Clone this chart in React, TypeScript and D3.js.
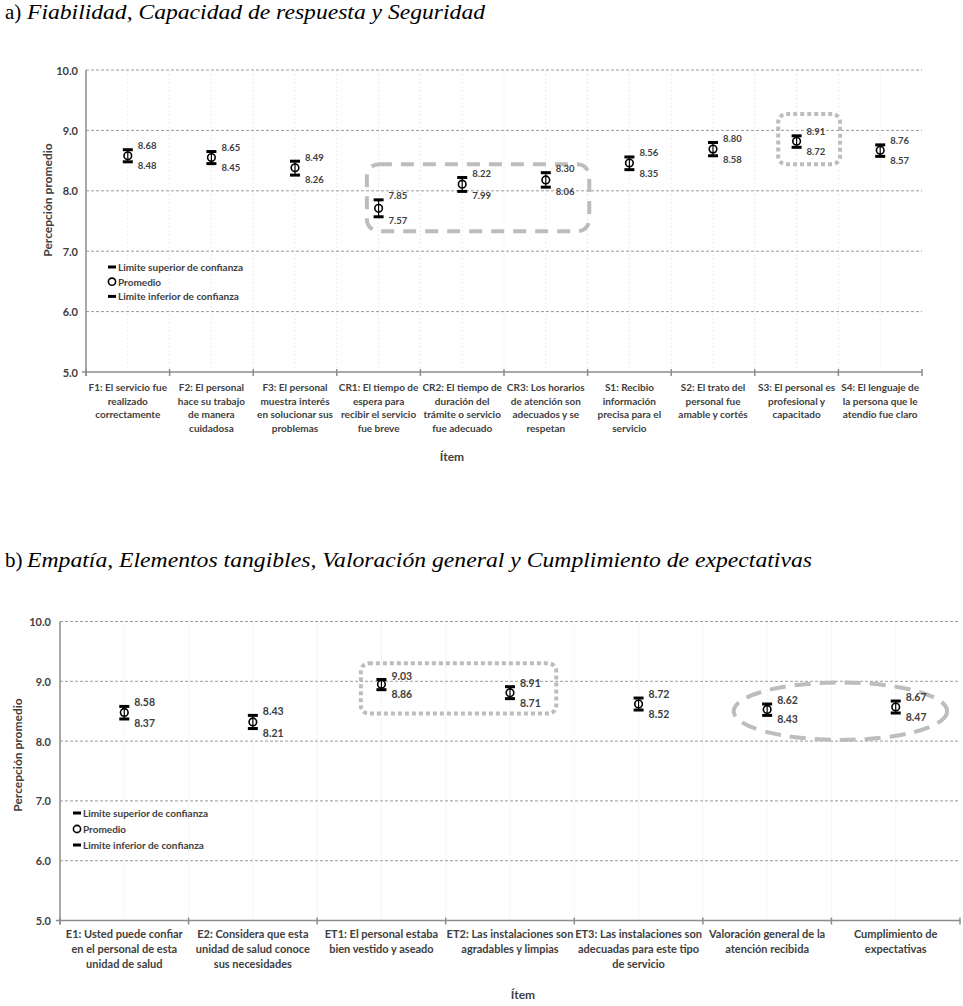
import React from "react";
import * as d3 from "d3";

const topCategories: string[][] = [
  ["F1: El servicio fue", "realizado", "correctamente"],
  ["F2: El personal", "hace su trabajo", "de manera", "cuidadosa"],
  ["F3: El personal", "muestra interés", "en solucionar sus", "problemas"],
  ["CR1: El tiempo de", "espera para", "recibir el servicio", "fue breve"],
  ["CR2: El tiempo de", "duración del", "trámite o servicio", "fue adecuado"],
  ["CR3: Los horarios", "de atención son", "adecuados y se", "respetan"],
  ["S1: Recibio", "información", "precisa para el", "servicio"],
  ["S2: El trato del", "personal fue", "amable y cortés"],
  ["S3: El personal es", "profesional y", "capacitado"],
  ["S4: El lenguaje de", "la persona que le", "atendio fue claro"],
];
const topUpper = [8.68, 8.65, 8.49, 7.85, 8.22, 8.3, 8.56, 8.8, 8.91, 8.76];
const topMean = [8.58, 8.55, 8.38, 7.71, 8.11, 8.18, 8.46, 8.69, 8.82, 8.67];
const topLower = [8.48, 8.45, 8.26, 7.57, 7.99, 8.06, 8.35, 8.58, 8.72, 8.57];

const botCategories: string[][] = [
  ["E1: Usted puede confiar", "en el personal de esta", "unidad de salud"],
  ["E2: Considera que esta", "unidad de salud conoce", "sus necesidades"],
  ["ET1: El personal estaba", "bien vestido y aseado"],
  ["ET2: Las instalaciones son", "agradables y limpias"],
  ["ET3: Las instalaciones son", "adecuadas para este tipo", "de servicio"],
  ["Valoración general de la", "atención recibida"],
  ["Cumplimiento de", "expectativas"],
];
const botUpper = [8.58, 8.43, 9.03, 8.91, 8.72, 8.62, 8.67];
const botMean = [8.48, 8.32, 8.95, 8.81, 8.62, 8.53, 8.57];
const botLower = [8.37, 8.21, 8.86, 8.71, 8.52, 8.43, 8.47];

const yTicks = [5, 6, 7, 8, 9, 10];
const legendItems = ["Limite superior de confianza", "Promedio", "Limite inferior de confianza"];

const FONT = "Lato, 'Open Sans', sans-serif";
const SERIF = "'Liberation Serif', 'DejaVu Serif', serif";
const TXT = "#404040";

type PanelProps = {
  cats: string[][];
  upper: number[];
  mean: number[];
  lower: number[];
  x0: number; x1: number; yTop: number; yBot: number;
  catFont: number; catLine: number; catY: number;
  valFont: number;
  yTitleX: number; yTitleY: number;
  itemX: number; itemY: number;
  legendX: number; legendY: number; legendStep: number;
  tickLabelX: number;
  annotations: (x: d3.ScaleLinear<number, number>, y: d3.ScaleLinear<number, number>) => React.ReactNode;
};

function Panel(p: PanelProps) {
  const n = p.cats.length;
  const x = d3.scaleLinear().domain([0, n]).range([p.x0, p.x1]);
  const y = d3.scaleLinear().domain([5, 10]).range([p.yBot, p.yTop]);
  const halfSteps = d3.range(1, 2 * n).map((i) => i / 2);
  return (
    <g>
      {halfSteps.map((h) => (
        <line key={"v" + h} x1={x(h)} x2={x(h)} y1={p.yTop} y2={p.yBot} stroke="#ececec" strokeDasharray="2,2" strokeWidth={1} />
      ))}
      {yTicks.filter((t) => t > 5).map((t) => (
        <line key={"h" + t} x1={p.x0} x2={p.x1} y1={y(t)} y2={y(t)} stroke="#9a9a9a" strokeDasharray="3,2" strokeWidth={1} />
      ))}
      <line x1={p.x0} x2={p.x0} y1={p.yTop} y2={p.yBot + 4} stroke="#8c8c8c" strokeWidth={1.5} />
      <line x1={p.x0 - 4} x2={p.x1} y1={p.yBot} y2={p.yBot} stroke="#8c8c8c" strokeWidth={1.5} />
      {d3.range(0, n + 1).map((i) => (
        <line key={"t" + i} x1={x(i)} x2={x(i)} y1={p.yBot - 3} y2={p.yBot + 4} stroke="#8c8c8c" strokeWidth={1.5} />
      ))}
      {yTicks.map((t) => (
        <text key={"yl" + t} x={p.tickLabelX} y={y(t)} textAnchor="end" dominantBaseline="central" fontFamily={FONT} fontWeight="bold" fontSize={11} fill={TXT}>
          {t.toFixed(1)}
        </text>
      ))}
      {p.cats.map((lines, i) => (
        <text key={"c" + i} x={x(i + 0.5)} y={p.catY} textAnchor="middle" fontFamily={FONT} fontWeight="bold" fontSize={p.catFont} fill={TXT}>
          {lines.map((l, j) => (
            <tspan key={j} x={x(i + 0.5)} y={p.catY + j * p.catLine}>{l}</tspan>
          ))}
        </text>
      ))}
      <text x={p.itemX} y={p.itemY} textAnchor="middle" fontFamily={FONT} fontWeight="bold" fontSize={12} fill={TXT}>Ítem</text>
      <text transform={`translate(${p.yTitleX},${p.yTitleY}) rotate(-90)`} textAnchor="middle" dominantBaseline="central" fontFamily={FONT} fontWeight="bold" fontSize={12} fill={TXT}>
        Percepción promedio
      </text>
      {p.annotations(x, y)}
      {p.cats.map((_, i) => {
        const cx = x(i + 0.5);
        return (
          <g key={"m" + i}>
            <line x1={cx} x2={cx} y1={y(p.upper[i])} y2={y(p.lower[i])} stroke="#000" strokeWidth={1.2} />
            <rect x={cx - 5} y={y(p.upper[i]) - 1.5} width={10} height={3} fill="#000" />
            <rect x={cx - 5} y={y(p.lower[i]) - 1.5} width={10} height={3} fill="#000" />
            <circle cx={cx} cy={y(p.mean[i])} r={3.8} fill="#fff" stroke="#000" strokeWidth={1.6} />
            <line x1={cx} x2={cx} y1={y(p.mean[i]) - 3.8} y2={y(p.mean[i]) + 3.8} stroke="#000" strokeWidth={1.2} />
            <text x={cx + 10} y={y(p.upper[i]) - 4} dominantBaseline="central" fontFamily={FONT} fontWeight="bold" fontSize={p.valFont} fill={TXT}>
              {p.upper[i].toFixed(2)}
            </text>
            <text x={cx + 10} y={y(p.lower[i]) + 4} dominantBaseline="central" fontFamily={FONT} fontWeight="bold" fontSize={p.valFont} fill={TXT}>
              {p.lower[i].toFixed(2)}
            </text>
          </g>
        );
      })}
      {legendItems.map((l, i) => {
        const ly = p.legendY + i * p.legendStep;
        return (
          <g key={"lg" + i}>
            {i === 1 ? (
              <circle cx={p.legendX} cy={ly} r={3.6} fill="#fff" stroke="#000" strokeWidth={1.6} />
            ) : (
              <rect x={p.legendX - 4} y={ly - 1.5} width={8} height={3} fill="#000" />
            )}
            <text x={p.legendX + 6} y={ly} dominantBaseline="central" fontFamily={FONT} fontWeight="bold" fontSize={10} fill={TXT}>{l}</text>
          </g>
        );
      })}
    </g>
  );
}

export default function App() {
  const dashStyle = { fill: "none", stroke: "#bdbdbd", strokeWidth: 4 };
  return (
    <svg width={963} height={1006} style={{ position: "absolute", left: 0, top: 0, background: "#fff" }}>
      <rect width={963} height={1006} fill="#fff" />
      <text x={5} y={19} fontFamily={SERIF} fontSize={21} fill="#000">a)</text>
      <text x={27} y={19} fontFamily={SERIF} fontSize={21} fontStyle="italic" fill="#000" textLength={458} lengthAdjust="spacingAndGlyphs">
        Fiabilidad, Capacidad de respuesta y Seguridad
      </text>
      <text x={5} y={567} fontFamily={SERIF} fontSize={21} fill="#000">b)</text>
      <text x={27} y={567} fontFamily={SERIF} fontSize={21} fontStyle="italic" fill="#000" textLength={785} lengthAdjust="spacingAndGlyphs">
        Empatía, Elementos tangibles, Valoración general y Cumplimiento de expectativas
      </text>
      <Panel
        cats={topCategories} upper={topUpper} mean={topMean} lower={topLower}
        x0={86} x1={922} yTop={70} yBot={372}
        catFont={10} catLine={13.5} catY={391} valFont={9.5}
        yTitleX={47} yTitleY={200} itemX={452} itemY={461}
        legendX={112} legendY={267} legendStep={14.7} tickLabelX={78}
        annotations={(x, y) => (
          <g>
            <rect x={x(3.36)} y={y(8.44)} width={x(6.02) - x(3.36)} height={y(7.33) - y(8.44)} rx={12} {...dashStyle} strokeDasharray="13,9" />
            <rect x={x(8.28)} y={y(9.27)} width={x(9.02) - x(8.28)} height={y(8.44) - y(9.27)} rx={8} {...dashStyle} strokeDasharray="4,3" />
          </g>
        )}
      />
      <Panel
        cats={botCategories} upper={botUpper} mean={botMean} lower={botLower}
        x0={60} x1={960} yTop={621.5} yBot={920.5}
        catFont={11} catLine={15} catY={938} valFont={10.5}
        yTitleX={17} yTitleY={755} itemX={523} itemY={999}
        legendX={77} legendY={813} legendStep={16} tickLabelX={51}
        annotations={(x, y) => (
          <g>
            <rect x={x(2.34)} y={y(9.3)} width={x(3.86) - x(2.34)} height={y(8.46) - y(9.3)} rx={8} {...dashStyle} strokeDasharray="4,3" />
            <ellipse cx={x(6.07)} cy={y(8.5)} rx={x(0.83) - x(0)} ry={y(9.0) - y(9.48)} {...dashStyle} strokeDasharray="16,9" />
          </g>
        )}
      />
    </svg>
  );
}
